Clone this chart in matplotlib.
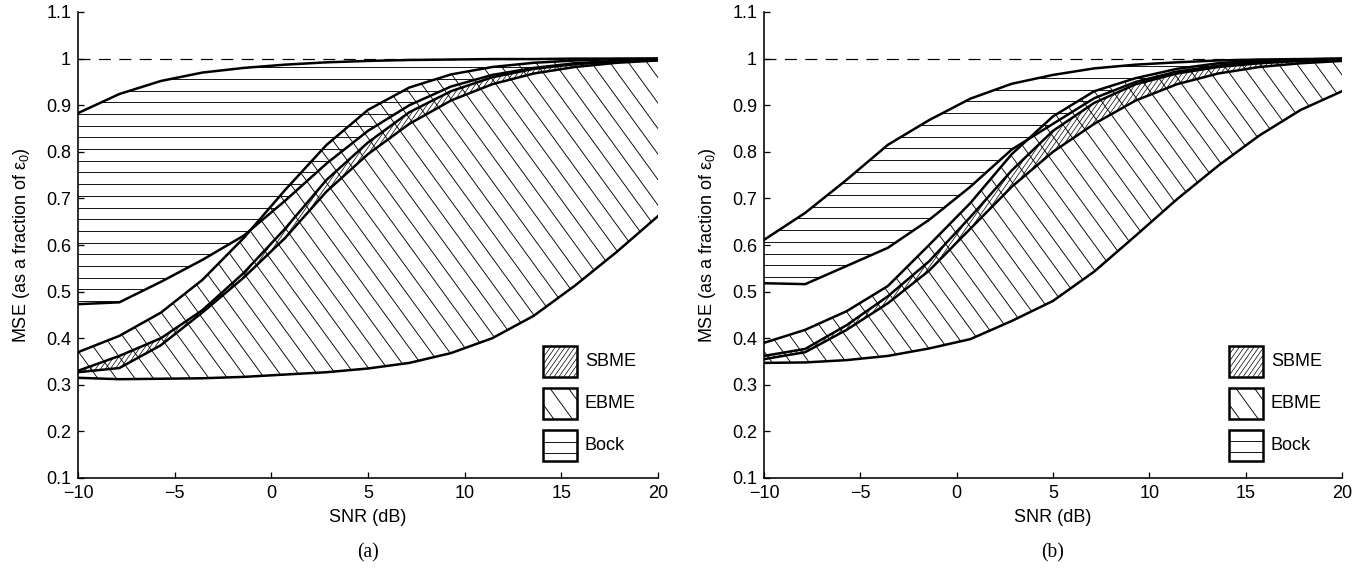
import numpy as np
import matplotlib
matplotlib.use('Agg')
import matplotlib.pyplot as plt
from matplotlib.patches import Polygon, Rectangle
from matplotlib.collections import LineCollection

W_PX, H_PX, DPI = 1366, 570, 72

# SNR grid (dB)
snr = [-10, -7.86, -5.71, -3.57, -1.43, 0.71, 2.86, 5.0, 7.14, 9.29, 11.43, 13.57, 15.71, 17.86, 20]

# (a) MSE bounds, as a fraction of eps0
bock_hi_a = [0.883, 0.924, 0.952, 0.970, 0.980, 0.987, 0.992, 0.995, 0.997, 0.998, 0.999, 0.999, 1.0, 1.0, 1.0]
bock_lo_a = [0.473, 0.477, 0.521, 0.568, 0.620, 0.695, 0.775, 0.845, 0.900, 0.940, 0.965, 0.980, 0.990, 0.995, 0.998]
ebme_hi_a = [0.370, 0.405, 0.455, 0.525, 0.615, 0.718, 0.815, 0.890, 0.938, 0.966, 0.982, 0.991, 0.996, 0.999, 1.0]
ebme_lo_a = [0.315, 0.312, 0.313, 0.314, 0.317, 0.322, 0.327, 0.335, 0.347, 0.368, 0.400, 0.448, 0.513, 0.585, 0.662]
sbme_hi_a = [0.330, 0.362, 0.400, 0.460, 0.540, 0.635, 0.740, 0.820, 0.885, 0.930, 0.960, 0.978, 0.988, 0.994, 0.997]
sbme_lo_a = [0.327, 0.336, 0.385, 0.455, 0.530, 0.615, 0.715, 0.795, 0.860, 0.910, 0.945, 0.968, 0.982, 0.991, 0.996]

# (b)
bock_hi_b = [0.611, 0.669, 0.740, 0.815, 0.868, 0.914, 0.946, 0.965, 0.979, 0.987, 0.992, 0.996, 0.998, 0.999, 1.0]
bock_lo_b = [0.518, 0.516, 0.555, 0.594, 0.654, 0.725, 0.805, 0.860, 0.915, 0.950, 0.972, 0.985, 0.993, 0.997, 0.999]
ebme_hi_b = [0.390, 0.418, 0.458, 0.512, 0.600, 0.690, 0.795, 0.876, 0.930, 0.958, 0.978, 0.990, 0.996, 0.998, 1.0]
ebme_lo_b = [0.347, 0.348, 0.353, 0.362, 0.378, 0.398, 0.437, 0.480, 0.543, 0.620, 0.698, 0.770, 0.835, 0.890, 0.930]
sbme_hi_b = [0.362, 0.377, 0.428, 0.490, 0.565, 0.660, 0.760, 0.845, 0.905, 0.945, 0.968, 0.982, 0.990, 0.995, 0.998]
sbme_lo_b = [0.355, 0.370, 0.418, 0.475, 0.545, 0.635, 0.725, 0.800, 0.860, 0.910, 0.945, 0.968, 0.982, 0.990, 0.995]

legend_labels = ['SBME', 'EBME', 'Bock']
xticks = [-10, -5, 0, 5, 10, 15, 20]
yticks = [0.1, 0.2, 0.3, 0.4, 0.5, 0.6, 0.7, 0.8, 0.9, 1.0, 1.1]
ytick_labels = ['0.1', '0.2', '0.3', '0.4', '0.5', '0.6', '0.7', '0.8', '0.9', '1', '1.1']

# hatch style: angle (deg), spacing (px, perpendicular), line width
HATCH = {'sbme': (55, 4.0, 0.7), 'ebme': (-54, 15.0, 0.9), 'bock': (0, 11.7, 0.9)}

plt.rcParams['font.family'] = ['Liberation Sans', 'DejaVu Sans']
plt.rcParams['mathtext.fontset'] = 'custom'
plt.rcParams['mathtext.rm'] = 'Liberation Sans'
plt.rcParams['mathtext.it'] = 'Liberation Sans:italic'


def hatch(ax, clip, style, zorder=1):
    angle, spacing, lw = HATCH[style]
    pos = ax.get_position()
    w, h = pos.width * W_PX, pos.height * H_PX
    a = np.deg2rad(angle)
    d = np.array([np.cos(a), np.sin(a)])
    n = np.array([-np.sin(a), np.cos(a)])
    diag = np.hypot(w, h)
    c = np.array([w / 2, h / 2])
    segs = []
    for t in np.arange(-diag / 2, diag / 2 + spacing, spacing):
        p0 = c + t * n - d * diag
        p1 = c + t * n + d * diag
        segs.append([(p0[0] / w, p0[1] / h), (p1[0] / w, p1[1] / h)])
    lc = LineCollection(segs, colors='k', linewidths=lw, transform=ax.transAxes, zorder=zorder)
    ax.add_collection(lc, autolim=False)
    lc.set_clip_path(clip)


def band(ax, lo, hi, style):
    x = np.asarray(snr)
    verts = np.column_stack([np.r_[x, x[::-1]], np.r_[lo, hi[::-1]]])
    poly = Polygon(verts, closed=True, facecolor='none', edgecolor='none')
    ax.add_patch(poly)
    hatch(ax, poly, style)


def draw_panel(ax, bock_hi, bock_lo, ebme_hi, ebme_lo, sbme_hi, sbme_lo, caption):
    ax.set_xlim(-10, 20)
    ax.set_ylim(0.1, 1.1)

    band(ax, np.array(bock_lo), np.array(bock_hi), 'bock')
    band(ax, np.array(ebme_lo), np.array(ebme_hi), 'ebme')
    band(ax, np.array(sbme_lo), np.array(sbme_hi), 'sbme')

    ax.axhline(1.0, color='k', lw=1.2, ls=(0, (10, 7)), zorder=2)
    for curve in [bock_hi, bock_lo, ebme_hi, ebme_lo, sbme_hi, sbme_lo]:
        ax.plot(snr, curve, color='k', lw=2.5, zorder=3, solid_joinstyle='round')

    for s in ['top', 'right']:
        ax.spines[s].set_visible(False)
    for s in ['left', 'bottom']:
        ax.spines[s].set_linewidth(1.6)
    ax.set_xticks(xticks)
    ax.set_xticklabels([str(v).replace('-', '\u2212') for v in xticks])
    ax.set_yticks(yticks)
    ax.set_yticklabels(ytick_labels)
    ax.tick_params(direction='in', length=6, width=1.3, labelsize=18, pad=7)
    ax.set_xlabel('SNR (dB)', fontsize=18, labelpad=7)
    ax.set_ylabel(r'MSE (as a fraction of $\mathregular{\epsilon_0}$)', fontsize=18, labelpad=14)

    # legend boxes
    pos = ax.get_position()
    w, h = pos.width * W_PX, pos.height * H_PX
    bw, bh = 34 / w, 31 / h
    x0 = 465 / w
    for i, (lab, style) in enumerate(zip(legend_labels, ['sbme', 'ebme', 'bock'])):
        y0 = 1 - (334 + 42 * i + 31) / h
        face = Rectangle((x0, y0), bw, bh, transform=ax.transAxes, facecolor='white',
                         edgecolor='none', zorder=5)
        ax.add_patch(face)
        hatch(ax, face, style, zorder=6)
        ax.add_patch(Rectangle((x0, y0), bw, bh, transform=ax.transAxes, facecolor='none',
                               edgecolor='k', lw=2.5, zorder=7))
        ax.text(x0 + bw + 8 / w, y0 + bh / 2, lab, transform=ax.transAxes,
                fontsize=18, va='center', ha='left', zorder=7)

    fig.text(pos.x0 + pos.width / 2, 1 - 553 / H_PX, caption, ha='center', va='center',
             fontsize=19.5, family='Liberation Serif')


fig = plt.figure(figsize=(W_PX / DPI, H_PX / DPI), dpi=DPI)
ax_a = fig.add_axes([78 / W_PX, 1 - 478 / H_PX, 580 / W_PX, 466 / H_PX])
ax_b = fig.add_axes([764 / W_PX, 1 - 478 / H_PX, 578 / W_PX, 466 / H_PX])

draw_panel(ax_a, bock_hi_a, bock_lo_a, ebme_hi_a, ebme_lo_a, sbme_hi_a, sbme_lo_a, '(a)')
draw_panel(ax_b, bock_hi_b, bock_lo_b, ebme_hi_b, ebme_lo_b, sbme_hi_b, sbme_lo_b, '(b)')

fig.savefig('out.png', dpi=DPI)
